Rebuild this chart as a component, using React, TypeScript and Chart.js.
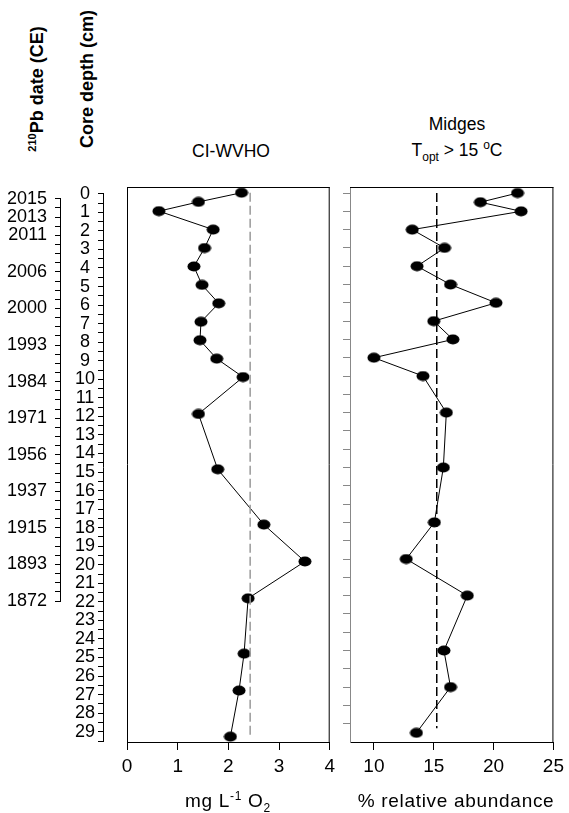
import React, { useEffect, useRef } from 'react';
import { Chart, registerables } from 'chart.js';

Chart.register(...registerables);

const FONT = '"Liberation Sans", Arial, Helvetica, sans-serif';

// Sample depths (cm) shared by both profiles
const DEPTHS = [0, 0.5, 1, 2, 3, 4, 5, 6, 7, 8, 9, 10, 12, 15, 18, 20, 22, 25, 27, 29.5];
// CI-WVHO inferred oxygen (mg L-1 O2)
const CI_WVHO = [2.26, 1.41, 0.63, 1.7, 1.53, 1.32, 1.48, 1.81, 1.46, 1.44, 1.77, 2.29, 1.41, 1.79, 2.7, 3.51, 2.39, 2.31, 2.21, 2.04];
// Midges with Topt > 15 oC (% relative abundance)
const MIDGES_WARM = [22.0, 18.9, 22.3, 13.2, 15.9, 13.6, 16.4, 20.2, 15.0, 16.6, 10.0, 14.1, 16.05, 15.8, 15.05, 12.7, 17.8, 15.85, 16.4, 13.55];

// Reference (dashed) lines
const CI_REF = 2.43;
const CI_REF_SPAN = [0, 29.5];
const MIDGE_REF = 15.25;
const MIDGE_REF_SPAN = [0, 29.25];

// 210Pb date axis
const DATE_DEPTHS = [0, 1, 2, 4, 6, 8, 10, 12, 14, 16, 18, 20, 22];
const DATE_LABELS = ['2015', '2013', '2011', '2006', '2000', '1993', '1984', '1971', '1956', '1937', '1915', '1893', '1872'];
const DATE_AXIS_MAX = 22;
const DEPTH_AXIS_MAX = 29.5;
const PANEL2_TICK_MAX = 29;

const CI_TICKS = [0, 1, 2, 3, 4];
const MIDGE_TICKS = [10, 15, 20, 25];

const steps = (max: number, step: number) =>
  Array.from({ length: Math.round(max / step) + 1 }, (_, i) => i * step);

const setTicks = (values: number[]) => (scale: any) => {
  scale.ticks = values.map((v) => ({ value: v }));
};

function makeDot() {
  const c = document.createElement('canvas');
  c.width = 14;
  c.height = 11;
  const g = c.getContext('2d')!;
  g.fillStyle = '#000';
  g.beginPath();
  g.ellipse(7, 5.5, 6.5, 5, 0, 0, Math.PI * 2);
  g.fill();
  return c;
}

const framePlugin = {
  id: 'frame',
  afterDraw(chart: any, _args: any, opts: any) {
    if (!opts || !opts.sides) return;
    const { ctx, chartArea } = chart;
    const { left, right, top, bottom } = chartArea;
    ctx.save();
    ctx.strokeStyle = opts.color || '#000';
    ctx.lineWidth = 1;
    ctx.beginPath();
    const s: string[] = opts.sides;
    if (s.includes('top')) {
      ctx.moveTo(left, top + 0.5);
      ctx.lineTo(right, top + 0.5);
    }
    if (s.includes('right')) {
      ctx.moveTo(right - 0.5, top);
      ctx.lineTo(right - 0.5, bottom);
    }
    if (s.includes('left')) {
      ctx.moveTo(left + 0.5, top);
      ctx.lineTo(left + 0.5, bottom);
    }
    ctx.stroke();
    ctx.restore();
  },
};

const basePlugins = {
  legend: { display: false },
  tooltip: { enabled: false },
  title: { display: false },
};

function axisChartConfig(max: number, width: number, bottomPad: number, labelFor: (v: number) => string, align: string, pad: number) {
  return {
    type: 'scatter',
    data: { datasets: [] },
    options: {
      animation: false,
      responsive: false,
      maintainAspectRatio: false,
      layout: { padding: { top: 11, bottom: bottomPad, left: 0, right: 0 } },
      plugins: basePlugins,
      scales: {
        x: { display: false, min: 0, max: 1 },
        y: {
          type: 'linear',
          reverse: true,
          min: 0,
          max,
          afterBuildTicks: setTicks(steps(max, 0.5)),
          afterFit: (s: any) => {
            s.width = width;
          },
          ticks: {
            autoSkip: false,
            font: { family: FONT, size: 18 },
            color: '#000',
            padding: pad,
            crossAlign: align,
            callback: (v: any) => labelFor(Number(v)),
          },
          grid: { drawOnChartArea: false, drawTicks: true, tickLength: 5, color: '#000', lineWidth: 1 },
          border: { display: true, color: '#000', width: 1 },
        },
      },
    },
  };
}

function panelConfig(opts: any) {
  const { values, refValue, refSpan, xmin, xmax, xticks, ymin, ymax, refColor, padLeft, padRight, yAxis, frameSides, dot } = opts;
  return {
    type: 'scatter',
    data: {
      datasets: [
        {
          data: refSpan.map((d: number) => ({ x: refValue, y: d })),
          showLine: true,
          borderColor: refColor,
          borderWidth: 1.5,
          borderDash: [9, 4],
          pointRadius: 0,
          clip: false,
        },
        {
          data: DEPTHS.map((d, i) => ({ x: values[i], y: d })),
          showLine: true,
          borderColor: '#000',
          borderWidth: 1,
          pointStyle: dot,
          pointRadius: 6,
          pointBackgroundColor: '#000',
          pointBorderWidth: 0,
          clip: false,
        },
      ],
    },
    plugins: [framePlugin],
    options: {
      animation: false,
      responsive: false,
      maintainAspectRatio: false,
      layout: { padding: { top: 7, bottom: 8, left: padLeft, right: padRight } },
      plugins: { ...basePlugins, frame: { sides: frameSides, color: '#000' } },
      scales: {
        x: {
          type: 'linear',
          min: xmin,
          max: xmax,
          afterBuildTicks: setTicks(xticks),
          afterFit: (s: any) => {
            s.height = 40;
          },
          ticks: { autoSkip: false, maxRotation: 0, font: { family: FONT, size: 19 }, color: '#000', padding: 5 },
          grid: { drawOnChartArea: false, drawTicks: true, tickLength: 8, color: '#000', lineWidth: 1 },
          border: { display: true, color: '#000', width: 1 },
        },
        y: yAxis
          ? {
              type: 'linear',
              reverse: true,
              min: ymin,
              max: ymax,
              afterBuildTicks: setTicks(steps(PANEL2_TICK_MAX, 1)),
              afterFit: (s: any) => {
                s.width = 8;
              },
              ticks: { display: false, autoSkip: false },
              grid: { drawOnChartArea: false, drawTicks: true, tickLength: 7, color: '#888', lineWidth: 1 },
              border: { display: true, color: '#888', width: 1 },
            }
          : { type: 'linear', reverse: true, min: ymin, max: ymax, display: false },
      },
    },
  };
}

const textBase: React.CSSProperties = {
  position: 'absolute',
  fontFamily: FONT,
  fontSize: 17,
  color: '#000',
  whiteSpace: 'nowrap',
  lineHeight: 1,
  transform: 'translate(-50%, -50%)',
};

const sup = (t: string, size = 11, top = -7) => (
  <span style={{ fontSize: size, position: 'relative', top }}>{t}</span>
);
const sub = (t: string, size = 11, top = 5) => (
  <span style={{ fontSize: size, position: 'relative', top }}>{t}</span>
);

export default function App() {
  const dateRef = useRef<HTMLCanvasElement>(null);
  const depthRef = useRef<HTMLCanvasElement>(null);
  const p1Ref = useRef<HTMLCanvasElement>(null);
  const p2Ref = useRef<HTMLCanvasElement>(null);

  useEffect(() => {
    const dot = makeDot();
    const dateLabel = (v: number) => {
      const i = DATE_DEPTHS.indexOf(v);
      return i >= 0 ? DATE_LABELS[i] : '';
    };
    const depthLabel = (v: number) => (Number.isInteger(v) && v <= 29 ? String(v) : '');
    const charts: Chart[] = [
      new Chart(dateRef.current!, axisChartConfig(DATE_AXIS_MAX, 60, 19, dateLabel, 'near', 8) as any),
      new Chart(depthRef.current!, axisChartConfig(DEPTH_AXIS_MAX, 39, 19, depthLabel, 'center', 3) as any),
      new Chart(
        p1Ref.current!,
        panelConfig({
          values: CI_WVHO,
          refValue: CI_REF,
          refSpan: CI_REF_SPAN,
          xmin: 0,
          xmax: 4,
          xticks: CI_TICKS,
          ymin: -0.31,
          ymax: 29.79,
          refColor: '#9a9a9a',
          padLeft: 17,
          padRight: 7,
          yAxis: false,
          frameSides: ['top', 'right', 'left'],
          dot,
        }) as any
      ),
      new Chart(
        p2Ref.current!,
        panelConfig({
          values: MIDGES_WARM,
          refValue: MIDGE_REF,
          refSpan: MIDGE_REF_SPAN,
          xmin: 8,
          xmax: 25,
          xticks: MIDGE_TICKS,
          ymin: -0.33,
          ymax: 30.0,
          refColor: '#000',
          padLeft: 2,
          padRight: 13,
          yAxis: true,
          frameSides: ['top', 'right'],
          dot,
        }) as any
      ),
    ];
    return () => charts.forEach((c) => c.destroy());
  }, []);

  const canvasStyle = (left: number, top: number, w: number, h: number): React.CSSProperties => ({
    position: 'absolute',
    left,
    top,
    width: w,
    height: h,
  });

  return (
    <div style={{ position: 'absolute', left: 0, top: 0, width: 569, height: 813, background: '#fff', overflow: 'hidden' }}>
      <canvas ref={dateRef} width={64} height={440} style={canvasStyle(0, 180, 64, 440)} />
      <canvas ref={depthRef} width={46} height={580} style={canvasStyle(64, 180, 46, 580)} />
      <canvas ref={p1Ref} width={230} height={610} style={canvasStyle(110, 180, 230, 610)} />
      <canvas ref={p2Ref} width={229} height={610} style={canvasStyle(340, 180, 229, 610)} />

      <div style={{ ...textBase, left: 37, top: 89, fontSize: 18, fontWeight: 'bold', transform: 'translate(-50%, -50%) rotate(-90deg)' }}>
        {sup('210', 11, -7)}Pb date (CE)
      </div>
      <div style={{ ...textBase, left: 87, top: 79, fontSize: 18, fontWeight: 'bold', transform: 'translate(-50%, -50%) rotate(-90deg)' }}>
        Core depth (cm)
      </div>

      <div style={{ ...textBase, left: 231, top: 152, fontSize: 17.5 }}>CI-WVHO</div>
      <div style={{ ...textBase, left: 457, top: 125, fontSize: 17.5 }}>Midges</div>
      <div style={{ ...textBase, left: 457, top: 151, fontSize: 17.5 }}>
        T{sub('opt', 12, 5)} &gt; 15 {sup('o', 12, -7)}C
      </div>

      <div style={{ ...textBase, left: 228, top: 800, fontSize: 19, letterSpacing: 0.7 }}>
        mg L{sup('-1', 12, -7)} O{sub('2', 12, 5)}
      </div>
      <div style={{ ...textBase, left: 456, top: 800, fontSize: 19, letterSpacing: 0.7 }}>% relative abundance</div>
    </div>
  );
}
